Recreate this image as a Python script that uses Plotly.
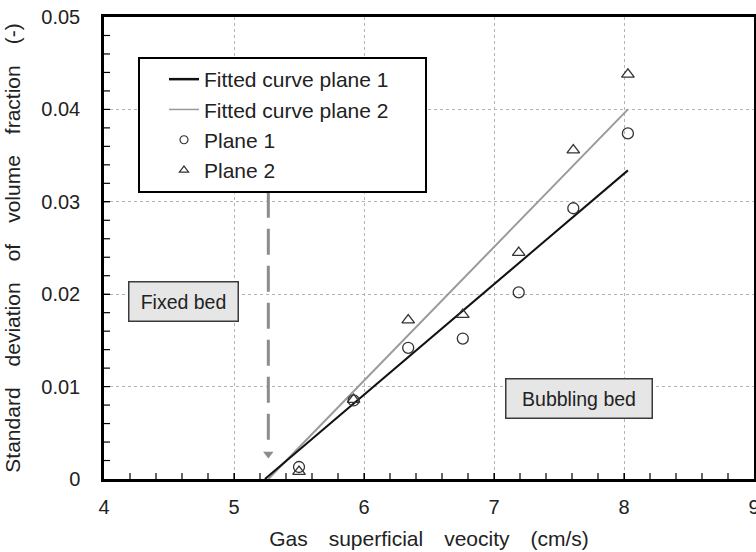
import plotly.graph_objects as go

# Measured standard deviation of volume fraction vs. gas superficial velocity
velocity = [5.50, 5.92, 6.34, 6.76, 7.19, 7.61, 8.03]
sd_plane1 = [0.0013, 0.0085, 0.0142, 0.0152, 0.0202, 0.0293, 0.0374]
sd_plane2 = [0.0008, 0.0086, 0.0172, 0.0178, 0.0245, 0.0356, 0.0438]

# Linear fits (end points of each fitted line)
fit1_x = [5.238, 8.03]
fit1_y = [0.0, 0.0334]
fit2_x = [5.264, 8.03]
fit2_y = [0.0, 0.0400]

# Minimum fluidization marker (dashed arrow)
umf_x = [5.264, 5.264]
umf_y = [0.0311, 0.0036]
umf_tip_y = [0.0027]

y_labels = ["0", "0.01", "0.02", "0.03", "0.04", "0.05"]
y_ticks = [0, 0.01, 0.02, 0.03, 0.04, 0.05]

# tick-mark positions along the bottom and left frame (every 0.2 and 0.002)
x_tick_marks = [round(4 + 0.2 * i, 1) for i in range(1, 25)]
y_tick_marks = [round(0.002 * i, 3) for i in range(1, 25)]

FONT = "Liberation Sans, Arial, sans-serif"
INK = "#222222"
GRAY_LINE = "#9a9a9a"
MARK = "#333333"

fig = go.Figure()

# dashed arrow
fig.add_trace(go.Scatter(x=umf_x, y=umf_y, mode="lines", showlegend=False,
                         line=dict(color="#8c8c8c", width=3, dash="26px,11px"),
                         hoverinfo="skip"))
fig.add_trace(go.Scatter(x=[umf_x[0]], y=umf_tip_y, mode="markers", showlegend=False,
                         marker=dict(symbol="triangle-down", size=9, color="#8c8c8c",
                                     line=dict(width=0)),
                         hoverinfo="skip"))

# fitted lines
fig.add_trace(go.Scatter(x=fit2_x, y=fit2_y, mode="lines", showlegend=False,
                         line=dict(color=GRAY_LINE, width=2)))
fig.add_trace(go.Scatter(x=fit1_x, y=fit1_y, mode="lines", showlegend=False,
                         line=dict(color="#111111", width=2)))

# measurements
fig.add_trace(go.Scatter(x=velocity, y=sd_plane1, mode="markers", showlegend=False,
                         marker=dict(symbol="circle-open", size=11, color=MARK,
                                     line=dict(width=1.3, color=MARK))))
fig.add_trace(go.Scatter(x=velocity, y=sd_plane2, mode="markers", showlegend=False,
                         marker=dict(symbol="triangle-up-open", size=11, color=MARK,
                                     line=dict(width=1.3, color=MARK))))

# legend entries
fig.add_trace(go.Scatter(x=[None], y=[None], mode="lines",
                         name="Fitted curve plane 1\u2003\u2002",
                         line=dict(color="#111111", width=2.5)))
fig.add_trace(go.Scatter(x=[None], y=[None], mode="lines", name="Fitted curve plane 2",
                         line=dict(color=GRAY_LINE, width=1.5)))
fig.add_trace(go.Scatter(x=[None], y=[None], mode="markers", name="Plane 1",
                         marker=dict(symbol="circle-open", size=8, color=MARK,
                                     line=dict(width=1.2, color=MARK))))
fig.add_trace(go.Scatter(x=[None], y=[None], mode="markers", name="Plane 2",
                         marker=dict(symbol="triangle-up-open", size=8, color=MARK,
                                     line=dict(width=1.2, color=MARK))))

# regime labels
box = dict(bgcolor="#e6e6e6", bordercolor="#3a3a3a", borderwidth=1.5, borderpad=1,
           font=dict(family=FONT, size=19.5, color=INK), showarrow=False,
           xref="x", yref="y")
fig.add_annotation(x=4.615, y=0.0192, text="Fixed bed", width=106, height=36, **box)
fig.add_annotation(x=7.655, y=0.0087, text="Bubbling bed", width=143, height=36, **box)

# inward tick marks on the bottom and left frame lines
tick_line = dict(color="black", width=1.2)
for v in x_tick_marks:
    fig.add_shape(type="line", xref="x", yref="y", ysizemode="pixel", yanchor=0,
                  x0=v, x1=v, y0=0, y1=6, line=tick_line, layer="above")
for v in y_tick_marks:
    fig.add_shape(type="line", xref="x", yref="y", xsizemode="pixel", xanchor=4,
                  x0=0, x1=6, y0=v, y1=v, line=tick_line, layer="above")

fig.update_xaxes(range=[4, 9], showline=True, linewidth=2.5, linecolor="black",
                 mirror=True, ticks="inside", ticklen=6, tickwidth=1.2, tickcolor="black",
                 showgrid=True, gridcolor="#b4b4b4", griddash="dot", zeroline=False,
                 ticklabelstandoff=8, ticklabeloverflow="allow", automargin=False,
                 tickfont=dict(family=FONT, size=20, color=INK),
                 title=dict(text="Gas\u2003superficial\u2003veocity\u2003(cm/s)",
                            font=dict(family=FONT, size=21, color=INK)))
fig.update_yaxes(range=[0, 0.05], showline=True, linewidth=2.5, linecolor="black",
                 mirror=True, ticks="inside", ticklen=6, tickwidth=1.2, tickcolor="black",
                 showgrid=True, gridcolor="#b4b4b4", griddash="dot", zeroline=False,
                 tickvals=y_ticks, ticktext=y_labels, ticklabelstandoff=17,
                 automargin=False,
                 tickfont=dict(family=FONT, size=20, color=INK),
                 title=dict(text="Standard\u2003deviation\u2003of\u2003volume\u2003fraction\u2003(-)",
                            font=dict(family=FONT, size=21, color=INK)))

fig.update_layout(
    width=756, height=552,
    margin=dict(l=104, r=2, t=17, b=73),
    paper_bgcolor="white", plot_bgcolor="white",
    font=dict(family=FONT, color=INK),
    legend=dict(x=0.0523, y=0.9134, xanchor="left", yanchor="top",
                bgcolor="white", bordercolor="black", borderwidth=2,
                font=dict(family=FONT, size=21, color=INK),
                indentation=24, tracegroupgap=0),
)

fig.write_html("out.html")
